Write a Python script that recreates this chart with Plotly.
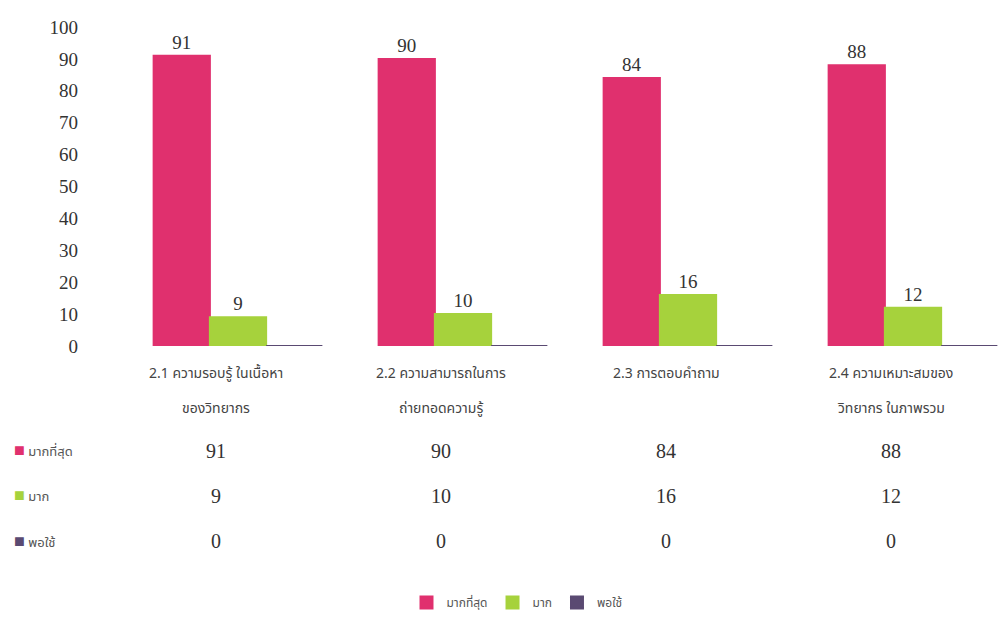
import plotly.graph_objects as go

categories = [
    ("2.1 ความรอบรู้ ในเนื้อหา", "ของวิทยากร"),
    ("2.2 ความสามารถในการ", "ถ่ายทอดความรู้"),
    ("2.3 การตอบคำถาม", ""),
    ("2.4 ความเหมาะสมของ", "วิทยากร ในภาพรวม"),
]
series_names = ["มากที่สุด", "มาก", "พอใช้"]
most = [91, 90, 84, 88]
much = [9, 10, 16, 12]
fair = [0, 0, 0, 0]
y_ticks = [0, 10, 20, 30, 40, 50, 60, 70, 80, 90, 100]

colors = ["#E0306E", "#A6D23C", "#5A4A72"]
cat_keys = [c[0] for c in categories]
values = [most, much, fair]

thai_font = "Noto Sans Thai, Noto Sans, Liberation Sans, sans-serif"
num_font = "Liberation Serif, DejaVu Serif, serif"

fig = go.Figure()
for name, vals, col in zip(series_names, values, colors):
    fig.add_trace(go.Bar(
        x=cat_keys, y=vals, name=name,
        marker=dict(color=col, line=dict(color=col, width=2)),
        text=[str(v) if v > 0 else "" for v in vals],
        textposition="outside", cliponaxis=False,
        textfont=dict(family=num_font, size=19, color="#333333"),
    ))

H = 320.0
def py(p):
    return (347 - p) / H

SHIFT = -22  # table column centres sit left of the bar groups
ann = []
for key, (l1, l2) in zip(cat_keys, categories):
    ann.append(dict(x=key, xref="x", xshift=SHIFT, y=py(375), yref="paper", text=l1,
                    xanchor="center", yanchor="middle",
                    showarrow=False, font=dict(family=thai_font, size=14, color="#444444")))
    if l2:
        ann.append(dict(x=key, xref="x", xshift=SHIFT, y=py(410), yref="paper", text=l2,
                        xanchor="center", yanchor="middle",
                        showarrow=False, font=dict(family=thai_font, size=14, color="#444444")))

row_y = [452, 497, 543]
for name, vals, col, ry in zip(series_names, values, colors, row_y):
    ann.append(dict(x=(12 - 103) / 900.0, xref="paper", y=py(ry), yref="paper",
                    xanchor="left", yanchor="middle",
                    text=f"<span style='color:{col};font-size:18px'>■</span> {name}",
                    showarrow=False, font=dict(family=thai_font, size=13, color="#555555")))
    for key, v in zip(cat_keys, vals):
        ann.append(dict(x=key, xref="x", xshift=SHIFT, y=py(ry), yref="paper", text=str(v),
                        xanchor="center", yanchor="middle",
                        showarrow=False, font=dict(family=num_font, size=20, color="#333333")))

fig.update_layout(
    width=1003, height=617,
    margin=dict(l=103, r=0, t=27, b=270),
    paper_bgcolor="white", plot_bgcolor="white",
    barmode="group", bargap=0.25, bargroupgap=0.0,
    showlegend=True,
    legend=dict(orientation="h", x=0.46, xanchor="center", y=py(605), yanchor="middle",
                font=dict(family=thai_font, size=12, color="#555555")),
    xaxis=dict(range=[-0.6, 3.4], showticklabels=False, showline=False, showgrid=False,
               zeroline=False),
    yaxis=dict(range=[0, 100], tickvals=y_ticks, showgrid=False, zeroline=False,
               showline=False, ticks="", ticklabelstandoff=24,
               tickfont=dict(family=num_font, size=19, color="#333333")),
    annotations=ann,
)

fig.write_html("out.html", config={"displayModeBar": False},
               post_script="document.body.style.margin='0';")
